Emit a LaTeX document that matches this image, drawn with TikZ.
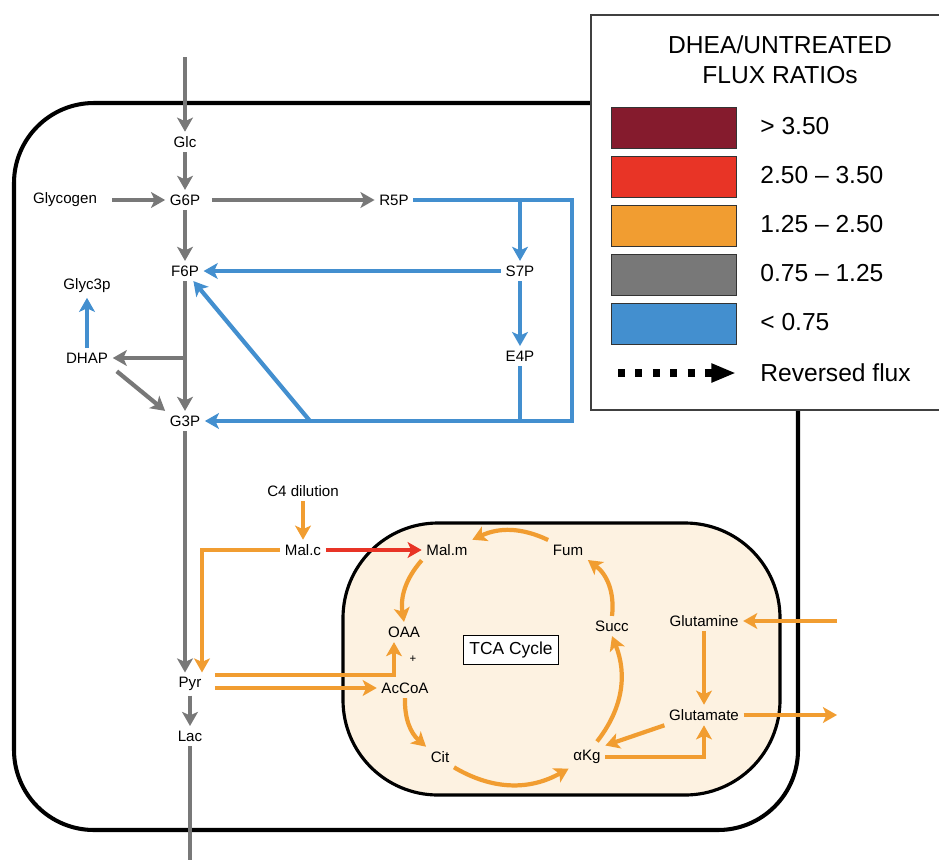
\documentclass[tikz,border=0pt]{standalone}
\usepackage{fontspec}
\setmainfont{Liberation Sans}
\usepackage{tikz}
\usetikzlibrary{arrows.meta,calc}
\definecolor{fluxgray}{RGB}{120,120,120}
\definecolor{fluxblue}{RGB}{67,143,207}
\definecolor{fluxorange}{RGB}{241,157,49}
\definecolor{fluxred}{RGB}{232,52,38}
\definecolor{darkred}{RGB}{133,27,45}
\definecolor{mitofill}{RGB}{253,242,225}

\begin{document}
\begin{tikzpicture}[x=0.02cm, y=-0.02cm,
  met/.style={font=\fontsize{8.6}{10}\selectfont, inner sep=2.5pt},
  flux/.style={line width=2.4pt, -{Stealth[length=8pt,width=9pt,inset=2pt]}},
  grayflux/.style={flux, draw=fluxgray},
  blueflux/.style={flux, draw=fluxblue},
  orangeflux/.style={flux, draw=fluxorange},
  redflux/.style={flux, draw=fluxred},
  membrane/.style={draw=black, line width=2.3pt},
  swatch/.style={draw=black!80, line width=0.6pt, minimum width=2.5cm, minimum height=0.82cm, inner sep=0pt},
  legtext/.style={font=\fontsize{14}{17}\selectfont, anchor=west, inner sep=0pt}]
  \useasboundingbox (0,0) rectangle (939,859);
  \clip (0,0) rectangle (939,859);
  \draw[membrane, rounded corners=1.6cm] (14,103) rectangle (798,830);
  \draw[membrane, line width=1.8pt, fill=mitofill, rounded corners=1.9cm] (343,523) rectangle (780,795);
  \draw[black!75, line width=0.9pt, fill=white] (591,15) rectangle (960,410);
  \node[font=\fontsize{14}{17}\selectfont, align=center] (legtitle) at (780,60) {DHEA/UNTREATED\\FLUX RATIOs};
  \foreach \col/\txt [count=\i] in {darkred/{> 3.50}, fluxred/{2.50 – 3.50}, fluxorange/{1.25 – 2.50}, fluxgray/{0.75 – 1.25}, fluxblue/{< 0.75}} {
    \node[swatch, fill=\col] (sw\i) at (674,{128+49*(\i-1)}) {};
    \node[legtext] (lab\i) at (760,{126+49*(\i-1)}) {\txt};
  }
  \coordinate (revstart) at (618,373);
  \coordinate (revend) at (736,373);
  \draw[line width=4.5pt, dash pattern=on 4pt off 5.9pt, -{Triangle[length=14pt,width=10pt]}] (revstart) -- (revend);
  \node[legtext] (revlab) at (760,373) {Reversed flux};

  \node[met] (glc) at (185,142) {Glc};
  \node[met] (g6p) at (185,200) {G6P};
  \node[met] (glycogen) at (65,200) {Glycogen};
  \node[met] (r5p) at (394,200) {R5P};
  \node[met] (f6p) at (185,271) {F6P};
  \node[met] (s7p) at (520,271) {S7P};
  \node[met] (e4p) at (520,356) {E4P};
  \node[met] (glyc3p) at (87,286) {Glyc3p};
  \node[met] (dhap) at (87,358) {DHAP};
  \node[met] (g3p) at (185,421) {G3P};
  \node[met] (c4) at (303,491) {C4 dilution};
  \node[met] (malc) at (303,550) {Mal.c};
  \node[met] (malm) at (447,550) {Mal.m};
  \node[met] (fum) at (568,550) {Fum};
  \node[met] (succ) at (612,626) {Succ};
  \node[met] (oaa) at (404,632) {OAA};
  \node[met, font=\fontsize{6.5}{8}\selectfont] (plus) at (413,659) {+};
  \node[met] (accoa) at (405,688) {AcCoA};
  \node[met] (cit) at (440,757) {Cit};
  \node[met] (akg) at (587,757) {αKg};
  \node[met] (pyr) at (190,684) {Pyr};
  \node[met] (lac) at (190,736) {Lac};
  \node[met] (gln) at (704,621) {Glutamine};
  \node[met] (glu) at (704,715) {Glutamate};
  \node[draw, fill=white, line width=0.7pt, font=\fontsize{9.9}{12}\selectfont, inner sep=3.5pt] (tca) at (511,650) {TCA Cycle};

  \coordinate (glcin) at (185,57);
  \coordinate (lacout) at (190,875);
  \coordinate (ppne) at (572,200);
  \coordinate (ppse) at (572,421);
  \coordinate (s7pin) at (520,200);
  \coordinate (e4pout) at (520,421);
  \coordinate (diag) at (310,421);
  \coordinate (dhapbr) at (185,358);
  \coordinate (malcbr) at (202,550);
  \coordinate (glnin) at (837,621);
  \coordinate (gluout) at (837,715);
  \coordinate (pyrhi) at ($(pyr.east)+(0,-9)$);
  \coordinate (pyrlo) at ($(pyr.east)+(0,4)$);

  \draw[grayflux] (glcin) -- (glc);
  \draw[grayflux] (glc) -- (g6p);
  \draw[grayflux, shorten <=6pt] (glycogen) -- (g6p);
  \draw[grayflux, shorten <=4pt] (g6p) -- (r5p);
  \draw[grayflux] (g6p) -- (f6p);
  \draw[grayflux] (f6p) -- (g3p);
  \draw[grayflux] (dhapbr) -- (dhap);
  \draw[grayflux, shorten <=3pt] (dhap.south east) -- (g3p.north west);
  \draw[grayflux] (g3p.south) -- (g3p.south |- pyr.north);
  \draw[grayflux] (pyr) -- (lac);
  \draw[grayflux] (lac) -- (lacout);

  \draw[blueflux] (r5p) -- (ppne) -- (ppse) -- (g3p);
  \draw[blueflux] (s7pin) -- (s7p);
  \draw[blueflux] (s7p) -- (f6p);
  \draw[blueflux] (s7p) -- (e4p);
  \draw[blueflux, -] (e4p) -- (e4pout);
  \draw[blueflux] (diag) -- (f6p);
  \draw[blueflux] (dhap) -- (glyc3p);

  \draw[orangeflux] (c4) -- (malc);
  \draw[orangeflux] (malc) -- (malcbr) -- (malcbr |- pyr.north);
  \draw[orangeflux, shorten <=5pt] (pyrhi) -| ($(oaa.south)+(-10,0)$);
  \draw[orangeflux, shorten <=5pt] (pyrlo) -- (pyrlo -| accoa.west);
  \draw[redflux] (malc) -- (malm);
  \draw[orangeflux] (malm.south west) to[bend right=25] (oaa.north);
  \draw[orangeflux] (accoa.south) to[bend right=25] (cit.north west);
  \draw[orangeflux] (cit.south east) to[bend right=30] (akg.south west);
  \draw[orangeflux] ($(akg.north)+(10,-4)$) to[bend right=30] (succ.south);
  \draw[orangeflux] (succ.north) to[bend right=30] (fum.south east);
  \draw[orangeflux] (fum.north west) to[bend right=25] (malm.north east);
  \draw[orangeflux] (glnin) -- (gln);
  \draw[orangeflux] (gln) -- (glu);
  \draw[orangeflux] (glu) -- (gluout);
  \draw[orangeflux] (glu.south west) -- (akg.north east);
  \draw[orangeflux] (akg.east) -| (glu.south);
\end{tikzpicture}
\end{document}
